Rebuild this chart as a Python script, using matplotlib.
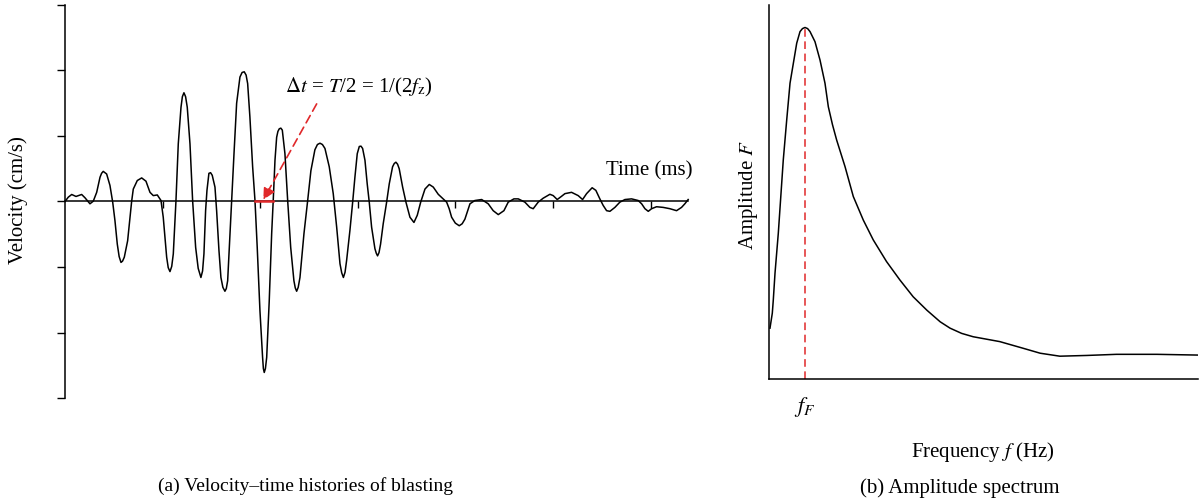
import matplotlib.pyplot as plt

plt.rcParams['font.family'] = ['Liberation Serif', 'DejaVu Serif']
plt.rcParams['mathtext.fontset'] = 'stix'

# velocity-time history (ms, cm/s)
t_wave = [0.0, 0.034, 0.069, 0.113, 0.171, 0.205, 0.256, 0.29, 0.325, 0.359,
          0.375, 0.392, 0.427, 0.461, 0.489, 0.512, 0.536, 0.555, 0.574, 0.59,
          0.608, 0.642, 0.666, 0.683, 0.70, 0.741, 0.786, 0.83, 0.871, 0.905,
          0.946, 0.984, 1.007, 1.042, 1.058, 1.076, 1.094, 1.11, 1.137, 1.161,
          1.189, 1.203, 1.219, 1.236, 1.253, 1.281, 1.308, 1.339, 1.365, 1.393,
          1.41, 1.424, 1.441, 1.455, 1.475, 1.492, 1.509, 1.537, 1.554, 1.578,
          1.598, 1.618, 1.639, 1.653, 1.667, 1.691, 1.708, 1.732, 1.759, 1.793,
          1.815, 1.837, 1.856, 1.872, 1.895, 1.923, 1.947, 1.97, 1.998, 2.025,
          2.033, 2.042, 2.054, 2.067, 2.093, 2.118, 2.134, 2.152, 2.169, 2.182,
          2.196, 2.212, 2.227, 2.254, 2.282, 2.313, 2.346, 2.36, 2.374, 2.39,
          2.408, 2.449, 2.487, 2.52, 2.561, 2.587, 2.613, 2.638, 2.664, 2.708,
          2.749, 2.784, 2.818, 2.836, 2.853, 2.87, 2.886, 2.92, 2.948, 2.971,
          2.995, 3.016, 3.033, 3.05, 3.074, 3.097, 3.118, 3.142, 3.176, 3.19,
          3.203, 3.218, 3.234, 3.261, 3.296, 3.323, 3.357, 3.374, 3.391, 3.408,
          3.425, 3.46, 3.494, 3.535, 3.576, 3.61, 3.645, 3.689, 3.733, 3.774,
          3.825, 3.876, 3.911, 3.937, 3.962, 4.0, 4.04, 4.07, 4.098, 4.15,
          4.2, 4.27, 4.337, 4.388, 4.44, 4.498, 4.542, 4.6, 4.645, 4.713,
          4.764, 4.798, 4.849, 4.9, 4.969, 5.003, 5.044, 5.089, 5.123, 5.191,
          5.259, 5.304, 5.345, 5.402, 5.44, 5.481, 5.515, 5.55, 5.584, 5.635,
          5.686, 5.738, 5.806, 5.874, 5.909, 5.943, 5.977, 6.011, 6.062, 6.13,
          6.199, 6.267, 6.318, 6.352, 6.386]
v_wave = [0.0, 0.066, 0.107, 0.077, 0.107, 0.057, -0.035, 0.005, 0.14, 0.37,
          0.43, 0.46, 0.42, 0.245, -0.01, -0.29, -0.65, -0.84, -0.93, -0.91,
          -0.85, -0.60, -0.24, 0.0, 0.19, 0.32, 0.36, 0.31, 0.14, 0.09,
          0.10, 0.015, -0.24, -0.85, -1.01, -1.07, -0.99, -0.80, 0.0, 0.88,
          1.44, 1.60, 1.66, 1.60, 1.44, 0.88, 0.015, -0.70, -1.02, -1.16,
          -1.06, -0.80, -0.14, 0.17, 0.43, 0.44, 0.40, 0.22, -0.14, -0.75,
          -1.16, -1.31, -1.37, -1.33, -1.21, -0.49, 0.015, 0.73, 1.50, 1.90,
          1.97, 1.98, 1.93, 1.80, 1.29, 0.53, 0.015, -0.70, -1.67, -2.38,
          -2.55, -2.61, -2.55, -2.38, -1.52, -0.49, 0.015, 0.63, 0.98, 1.07,
          1.11, 1.12, 1.09, 0.73, 0.015, -0.70, -1.21, -1.32, -1.37, -1.31,
          -1.16, -0.49, 0.015, 0.47, 0.79, 0.87, 0.89, 0.87, 0.81, 0.53,
          0.12, -0.39, -0.95, -1.09, -1.16, -1.08, -0.90, -0.44, -0.01, 0.37,
          0.73, 0.84, 0.845, 0.81, 0.63, 0.27, -0.01, -0.39, -0.72, -0.79,
          -0.83, -0.78, -0.65, -0.34, -0.01, 0.27, 0.53, 0.58, 0.60, 0.57,
          0.50, 0.22, -0.01, -0.24, -0.32, -0.21, -0.01, 0.19, 0.26, 0.22,
          0.11, 0.04, -0.01, -0.11, -0.24, -0.33, -0.37, -0.34, -0.27, -0.035,
          0.015, 0.03, -0.035, -0.14, -0.20, -0.14, -0.01, 0.04, 0.04, -0.01,
          -0.09, -0.11, -0.01, 0.05, 0.11, 0.09, 0.03, 0.08, 0.12, 0.14,
          0.09, 0.03, 0.12, 0.21, 0.17, 0.04, -0.06, -0.14, -0.15, -0.09,
          -0.01, 0.03, 0.04, 0.015, -0.035, -0.11, -0.15, -0.11, -0.08, -0.09,
          -0.11, -0.14, -0.09, -0.035, 0.03]

# zero crossings bounding the largest half cycle
half_start, half_end = 1.947, 2.134
time_ticks = [1, 2, 3, 4, 5, 6]
vel_ticks = [-3, -2, -1, 0, 1, 2, 3]

# amplitude spectrum (arbitrary units)
f_spec = [0.23, 0.77, 1.0, 1.4, 2.17, 3.33, 4.13, 4.9, 6.46, 7.23,
          7.8, 8.39, 9.0, 9.56, 10.72, 11.89, 13.05, 13.83, 14.8, 15.77,
          17.72, 19.65, 21.98, 24.3, 27.4, 30.5, 33.6, 36.8, 39.9, 42.2,
          44.9, 47.6, 53.8, 59.3, 63.2, 67.8, 74.1, 81.0, 90.4, 100.0]
a_spec = [13.6, 17.6, 21.1, 28.3, 39.0, 58.6, 69.3, 79.1, 89.8, 92.9,
          93.7, 94.0, 93.7, 92.9, 90.2, 85.3, 79.1, 72.8, 68.0, 63.9,
          56.8, 48.8, 42.5, 37.2, 31.4, 26.5, 22.0, 18.4, 15.3, 13.6,
          12.2, 11.3, 10.0, 8.2, 6.9, 6.1, 6.3, 6.6, 6.6, 6.4]
f_peak = f_spec[a_spec.index(max(a_spec))]

red = '#e0282a'
fs = 15

fig = plt.figure(figsize=(12.01, 5.04), dpi=100)

# (a) velocity-time history
ax1 = fig.add_axes([0.0541, 0.2103, 0.5241, 0.7798])
ax1.plot(t_wave, v_wave, color='black', lw=1.1, zorder=3)
ax1.plot([half_start, half_end], [0, 0], color=red, lw=1.8, zorder=4)
ax1.set_xlim(0, 6.45)
ax1.set_ylim(-3, 3)
ax1.spines['top'].set_visible(False)
ax1.spines['right'].set_visible(False)
ax1.spines['bottom'].set_position(('data', 0))
ax1.spines['bottom'].set_bounds(0, t_wave[-1])
ax1.spines['left'].set_bounds(-3, 3)
for sp in ax1.spines.values():
    sp.set_linewidth(1.1)
ax1.set_xticks(time_ticks)
ax1.set_yticks(vel_ticks)
ax1.tick_params(axis='x', direction='out', length=5, width=1, labelbottom=False)
ax1.tick_params(axis='y', direction='out', length=6, width=1, labelleft=False)
ax1.text(6.43, 0.47, 'Time (ms)', ha='right', va='center', fontsize=fs)
ax1.annotate('', xy=(2.032, 0.026), xytext=(2.579, 1.49),
             arrowprops=dict(arrowstyle='-|>', color=red, lw=1.2,
                             linestyle=(0, (5, 3)), mutation_scale=18,
                             shrinkA=0, shrinkB=0), zorder=5)
ax1.text(2.254, 1.74, r'$\mathit{\Delta t}$ = $T$/2 = 1/(2$f_\mathrm{z}$)',
         ha='left', va='center', fontsize=fs)

fig.text(18 / 1201, 1 - 200 / 504, 'Velocity (cm/s)', rotation=90,
         ha='center', va='center', fontsize=fs)

# (b) amplitude spectrum
ax2 = fig.add_axes([0.6403, 0.248, 0.3572, 0.742])
ax2.plot(f_spec, a_spec, color='black', lw=1.1)
ax2.plot([f_peak, f_peak], [0, max(a_spec)], color=red, lw=1.1,
         linestyle=(0, (5, 3)))
ax2.set_xlim(0, 100)
ax2.set_ylim(0, 100)
ax2.spines['top'].set_visible(False)
ax2.spines['right'].set_visible(False)
for sp in ax2.spines.values():
    sp.set_linewidth(1.1)
ax2.set_xticks([])
ax2.set_yticks([])
ax2.text(f_peak, -7.5, r'$f_F$', ha='center', va='center', fontsize=fs + 1)

fig.text(749 / 1201, 1 - 195 / 504, 'Amplitude $F$', rotation=90,
         ha='center', va='center', fontsize=fs)
fig.text(983 / 1201, 1 - 452 / 504, 'Frequency $f$ (Hz)',
         ha='center', va='center', fontsize=fs)

# captions
fig.text(306 / 1201, 1 - 486 / 504, '(a) Velocity\u2013time histories of blasting',
         ha='center', va='center', fontsize=14)
fig.text(960 / 1201, 1 - 488 / 504, '(b) Amplitude spectrum',
         ha='center', va='center', fontsize=fs)

fig.savefig('out.png', dpi=100)
